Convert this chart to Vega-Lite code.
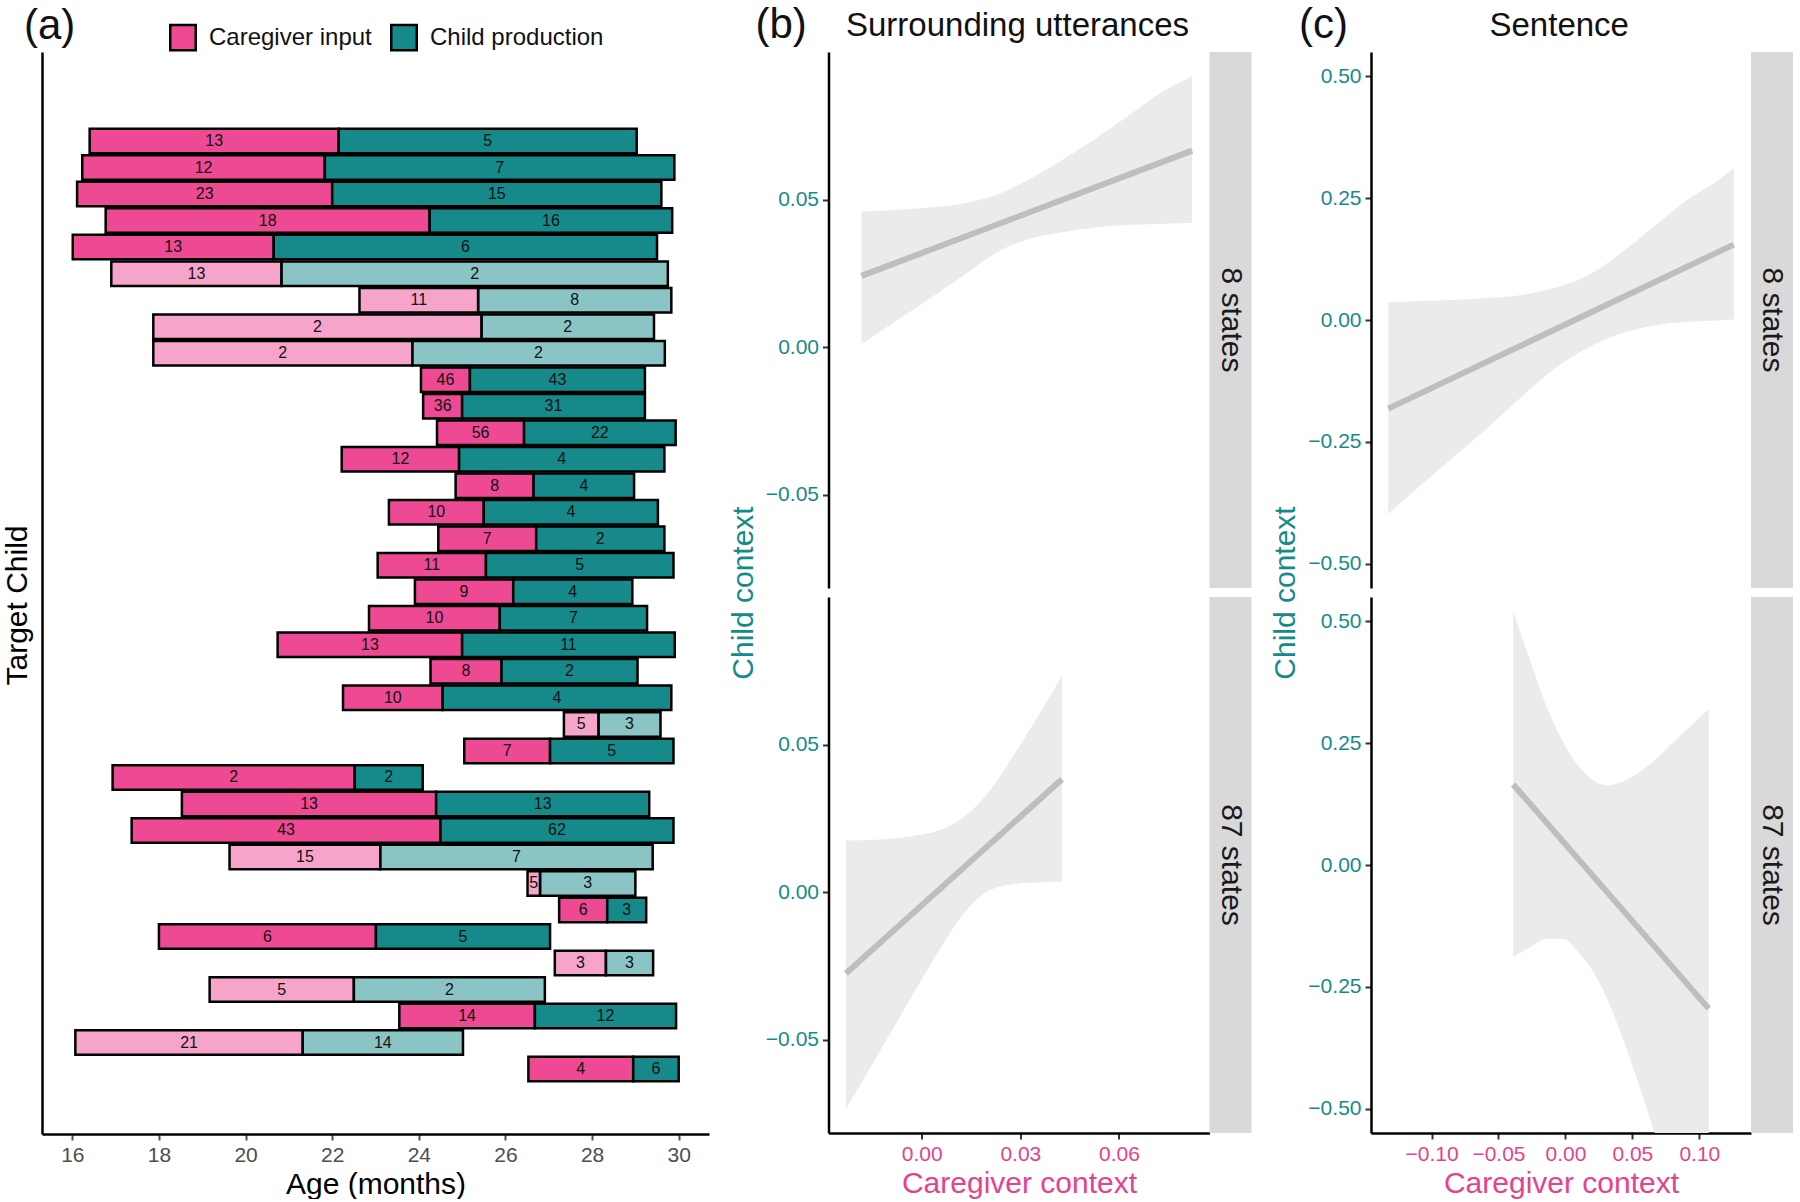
{
  "$schema": "https://vega.github.io/schema/vega-lite/v6.json",
  "background": "white",
  "padding": {"left": 2, "top": 3, "right": 0, "bottom": 0},
  "config": {
    "font": "Liberation Sans",
    "view": {"stroke": null},
    "axis": {"grid": false, "domainColor": "#000000", "domainWidth": 2.5, "tickColor": "#333333", "tickWidth": 2, "tickSize": 6, "labelFontSize": 21, "titleFontSize": 30, "titleFontWeight": "normal", "labelPadding": 4},
    "title": {"fontWeight": "normal", "color": "#111111"},
    "header": {"titleFontWeight": "normal"}
  },
  "datasets": {
    "bars": [
      {"child": 1, "type": "Caregiver input", "start": 16.40, "end": 22.15, "n": 13, "faded": "no"},
      {"child": 1, "type": "Child production", "start": 22.15, "end": 29.03, "n": 5, "faded": "no"},
      {"child": 2, "type": "Caregiver input", "start": 16.23, "end": 21.83, "n": 12, "faded": "no"},
      {"child": 2, "type": "Child production", "start": 21.83, "end": 29.90, "n": 7, "faded": "no"},
      {"child": 3, "type": "Caregiver input", "start": 16.11, "end": 22.00, "n": 23, "faded": "no"},
      {"child": 3, "type": "Child production", "start": 22.00, "end": 29.60, "n": 15, "faded": "no"},
      {"child": 4, "type": "Caregiver input", "start": 16.77, "end": 24.25, "n": 18, "faded": "no"},
      {"child": 4, "type": "Child production", "start": 24.25, "end": 29.85, "n": 16, "faded": "no"},
      {"child": 5, "type": "Caregiver input", "start": 16.01, "end": 20.65, "n": 13, "faded": "no"},
      {"child": 5, "type": "Child production", "start": 20.65, "end": 29.50, "n": 6, "faded": "no"},
      {"child": 6, "type": "Caregiver input", "start": 16.90, "end": 20.83, "n": 13, "faded": "yes"},
      {"child": 6, "type": "Child production", "start": 20.83, "end": 29.75, "n": 2, "faded": "yes"},
      {"child": 7, "type": "Caregiver input", "start": 22.63, "end": 25.37, "n": 11, "faded": "yes"},
      {"child": 7, "type": "Child production", "start": 25.37, "end": 29.83, "n": 8, "faded": "yes"},
      {"child": 8, "type": "Caregiver input", "start": 17.87, "end": 25.45, "n": 2, "faded": "yes"},
      {"child": 8, "type": "Child production", "start": 25.45, "end": 29.43, "n": 2, "faded": "yes"},
      {"child": 9, "type": "Caregiver input", "start": 17.87, "end": 23.85, "n": 2, "faded": "yes"},
      {"child": 9, "type": "Child production", "start": 23.85, "end": 29.68, "n": 2, "faded": "yes"},
      {"child": 10, "type": "Caregiver input", "start": 24.05, "end": 25.18, "n": 46, "faded": "no"},
      {"child": 10, "type": "Child production", "start": 25.18, "end": 29.22, "n": 43, "faded": "no"},
      {"child": 11, "type": "Caregiver input", "start": 24.10, "end": 25.00, "n": 36, "faded": "no"},
      {"child": 11, "type": "Child production", "start": 25.00, "end": 29.22, "n": 31, "faded": "no"},
      {"child": 12, "type": "Caregiver input", "start": 24.42, "end": 26.43, "n": 56, "faded": "no"},
      {"child": 12, "type": "Child production", "start": 26.43, "end": 29.93, "n": 22, "faded": "no"},
      {"child": 13, "type": "Caregiver input", "start": 22.22, "end": 24.93, "n": 12, "faded": "no"},
      {"child": 13, "type": "Child production", "start": 24.93, "end": 29.67, "n": 4, "faded": "no"},
      {"child": 14, "type": "Caregiver input", "start": 24.85, "end": 26.65, "n": 8, "faded": "no"},
      {"child": 14, "type": "Child production", "start": 26.65, "end": 28.97, "n": 4, "faded": "no"},
      {"child": 15, "type": "Caregiver input", "start": 23.31, "end": 25.50, "n": 10, "faded": "no"},
      {"child": 15, "type": "Child production", "start": 25.50, "end": 29.52, "n": 4, "faded": "no"},
      {"child": 16, "type": "Caregiver input", "start": 24.45, "end": 26.71, "n": 7, "faded": "no"},
      {"child": 16, "type": "Child production", "start": 26.71, "end": 29.67, "n": 2, "faded": "no"},
      {"child": 17, "type": "Caregiver input", "start": 23.05, "end": 25.55, "n": 11, "faded": "no"},
      {"child": 17, "type": "Child production", "start": 25.55, "end": 29.88, "n": 5, "faded": "no"},
      {"child": 18, "type": "Caregiver input", "start": 23.91, "end": 26.18, "n": 9, "faded": "no"},
      {"child": 18, "type": "Child production", "start": 26.18, "end": 28.93, "n": 4, "faded": "no"},
      {"child": 19, "type": "Caregiver input", "start": 22.85, "end": 25.87, "n": 10, "faded": "no"},
      {"child": 19, "type": "Child production", "start": 25.87, "end": 29.27, "n": 7, "faded": "no"},
      {"child": 20, "type": "Caregiver input", "start": 20.74, "end": 25.00, "n": 13, "faded": "no"},
      {"child": 20, "type": "Child production", "start": 25.00, "end": 29.91, "n": 11, "faded": "no"},
      {"child": 21, "type": "Caregiver input", "start": 24.27, "end": 25.91, "n": 8, "faded": "no"},
      {"child": 21, "type": "Child production", "start": 25.91, "end": 29.05, "n": 2, "faded": "no"},
      {"child": 22, "type": "Caregiver input", "start": 22.25, "end": 24.55, "n": 10, "faded": "no"},
      {"child": 22, "type": "Child production", "start": 24.55, "end": 29.83, "n": 4, "faded": "no"},
      {"child": 23, "type": "Caregiver input", "start": 27.35, "end": 28.15, "n": 5, "faded": "yes"},
      {"child": 23, "type": "Child production", "start": 28.15, "end": 29.58, "n": 3, "faded": "yes"},
      {"child": 24, "type": "Caregiver input", "start": 25.05, "end": 27.03, "n": 7, "faded": "no"},
      {"child": 24, "type": "Child production", "start": 27.03, "end": 29.88, "n": 5, "faded": "no"},
      {"child": 25, "type": "Caregiver input", "start": 16.93, "end": 22.52, "n": 2, "faded": "no"},
      {"child": 25, "type": "Child production", "start": 22.52, "end": 24.09, "n": 2, "faded": "no"},
      {"child": 26, "type": "Caregiver input", "start": 18.53, "end": 24.40, "n": 13, "faded": "no"},
      {"child": 26, "type": "Child production", "start": 24.40, "end": 29.32, "n": 13, "faded": "no"},
      {"child": 27, "type": "Caregiver input", "start": 17.37, "end": 24.50, "n": 43, "faded": "no"},
      {"child": 27, "type": "Child production", "start": 24.50, "end": 29.88, "n": 62, "faded": "no"},
      {"child": 28, "type": "Caregiver input", "start": 19.63, "end": 23.11, "n": 15, "faded": "yes"},
      {"child": 28, "type": "Child production", "start": 23.11, "end": 29.40, "n": 7, "faded": "yes"},
      {"child": 29, "type": "Caregiver input", "start": 26.51, "end": 26.80, "n": 5, "faded": "yes"},
      {"child": 29, "type": "Child production", "start": 26.80, "end": 29.00, "n": 3, "faded": "yes"},
      {"child": 30, "type": "Caregiver input", "start": 27.24, "end": 28.35, "n": 6, "faded": "no"},
      {"child": 30, "type": "Child production", "start": 28.35, "end": 29.25, "n": 3, "faded": "no"},
      {"child": 31, "type": "Caregiver input", "start": 18.00, "end": 23.01, "n": 6, "faded": "no"},
      {"child": 31, "type": "Child production", "start": 23.01, "end": 27.03, "n": 5, "faded": "no"},
      {"child": 32, "type": "Caregiver input", "start": 27.14, "end": 28.32, "n": 3, "faded": "yes"},
      {"child": 32, "type": "Child production", "start": 28.32, "end": 29.41, "n": 3, "faded": "yes"},
      {"child": 33, "type": "Caregiver input", "start": 19.17, "end": 22.50, "n": 5, "faded": "yes"},
      {"child": 33, "type": "Child production", "start": 22.50, "end": 26.91, "n": 2, "faded": "yes"},
      {"child": 34, "type": "Caregiver input", "start": 23.55, "end": 26.68, "n": 14, "faded": "no"},
      {"child": 34, "type": "Child production", "start": 26.68, "end": 29.94, "n": 12, "faded": "no"},
      {"child": 35, "type": "Caregiver input", "start": 16.07, "end": 21.32, "n": 21, "faded": "yes"},
      {"child": 35, "type": "Child production", "start": 21.32, "end": 25.02, "n": 14, "faded": "yes"},
      {"child": 36, "type": "Caregiver input", "start": 26.53, "end": 28.95, "n": 4, "faded": "no"},
      {"child": 36, "type": "Child production", "start": 28.95, "end": 30.00, "n": 6, "faded": "no"}
    ],
    "regB": [
      {"states": "8 states", "kind": "band", "x": -0.01833, "lo": 0.00115, "hi": 0.0460},
      {"states": "8 states", "kind": "band", "x": -0.00718, "lo": 0.00939, "hi": 0.04661},
      {"states": "8 states", "kind": "band", "x": 0.00295, "lo": 0.01691, "hi": 0.04745},
      {"states": "8 states", "kind": "band", "x": 0.01308, "lo": 0.02455, "hi": 0.04879},
      {"states": "8 states", "kind": "band", "x": 0.02321, "lo": 0.03242, "hi": 0.05182},
      {"states": "8 states", "kind": "band", "x": 0.03335, "lo": 0.03691, "hi": 0.05727},
      {"states": "8 states", "kind": "band", "x": 0.04348, "lo": 0.03909, "hi": 0.06394},
      {"states": "8 states", "kind": "band", "x": 0.05361, "lo": 0.04067, "hi": 0.07121},
      {"states": "8 states", "kind": "band", "x": 0.06374, "lo": 0.04152, "hi": 0.07909},
      {"states": "8 states", "kind": "band", "x": 0.07388, "lo": 0.04188, "hi": 0.08697},
      {"states": "8 states", "kind": "band", "x": 0.08229, "lo": 0.04212, "hi": 0.09182},
      {"states": "8 states", "kind": "line", "x": -0.01833, "y": 0.02418},
      {"states": "8 states", "kind": "line", "x": 0.08229, "y": 0.06661},
      {"states": "87 states", "kind": "band", "x": -0.02309, "lo": -0.07349, "hi": 0.01755},
      {"states": "87 states", "kind": "band", "x": -0.01225, "lo": -0.0529, "hi": 0.01792},
      {"states": "87 states", "kind": "band", "x": -0.00212, "lo": -0.03354, "hi": 0.01913},
      {"states": "87 states", "kind": "band", "x": 0.00599, "lo": -0.0184, "hi": 0.02131},
      {"states": "87 states", "kind": "band", "x": 0.01308, "lo": -0.0068, "hi": 0.02579},
      {"states": "87 states", "kind": "band", "x": 0.02018, "lo": 0.00036, "hi": 0.03366},
      {"states": "87 states", "kind": "band", "x": 0.02828, "lo": 0.00278, "hi": 0.04697},
      {"states": "87 states", "kind": "band", "x": 0.03639, "lo": 0.00339, "hi": 0.0615},
      {"states": "87 states", "kind": "band", "x": 0.04267, "lo": 0.00363, "hi": 0.07337},
      {"states": "87 states", "kind": "line", "x": -0.02309, "y": -0.02748},
      {"states": "87 states", "kind": "line", "x": 0.04267, "y": 0.03826}
    ],
    "regC": [
      {"states": "8 states", "kind": "band", "x": -0.1323, "lo": -0.3976, "hi": 0.0362},
      {"states": "8 states", "kind": "band", "x": -0.1082, "lo": -0.3391, "hi": 0.0391},
      {"states": "8 states", "kind": "band", "x": -0.0833, "lo": -0.2805, "hi": 0.0413},
      {"states": "8 states", "kind": "band", "x": -0.0584, "lo": -0.2220, "hi": 0.0450},
      {"states": "8 states", "kind": "band", "x": -0.0336, "lo": -0.1598, "hi": 0.0508},
      {"states": "8 states", "kind": "band", "x": -0.0087, "lo": -0.1013, "hi": 0.0655},
      {"states": "8 states", "kind": "band", "x": 0.0162, "lo": -0.0574, "hi": 0.0903},
      {"states": "8 states", "kind": "band", "x": 0.0411, "lo": -0.0282, "hi": 0.1364},
      {"states": "8 states", "kind": "band", "x": 0.0659, "lo": -0.0113, "hi": 0.1913},
      {"states": "8 states", "kind": "band", "x": 0.0908, "lo": -0.0040, "hi": 0.2462},
      {"states": "8 states", "kind": "band", "x": 0.1157, "lo": -0.0004, "hi": 0.2900},
      {"states": "8 states", "kind": "band", "x": 0.1257, "lo": 0.0011, "hi": 0.3120},
      {"states": "8 states", "kind": "line", "x": -0.1323, "y": -0.1818},
      {"states": "8 states", "kind": "line", "x": 0.1257, "y": 0.1547},
      {"states": "87 states", "kind": "band", "x": -0.0390, "lo": -0.1888, "hi": 0.5197},
      {"states": "87 states", "kind": "band", "x": -0.0261, "lo": -0.1681, "hi": 0.4175},
      {"states": "87 states", "kind": "band", "x": -0.0137, "lo": -0.1516, "hi": 0.3225},
      {"states": "87 states", "kind": "band", "x": -0.0012, "lo": -0.1523, "hi": 0.2495},
      {"states": "87 states", "kind": "band", "x": 0.0112, "lo": -0.1841, "hi": 0.1983},
      {"states": "87 states", "kind": "band", "x": 0.0212, "lo": -0.2212, "hi": 0.1728},
      {"states": "87 states", "kind": "band", "x": 0.0311, "lo": -0.2745, "hi": 0.1633},
      {"states": "87 states", "kind": "band", "x": 0.0411, "lo": -0.3430, "hi": 0.1691},
      {"states": "87 states", "kind": "band", "x": 0.0535, "lo": -0.4397, "hi": 0.1874},
      {"states": "87 states", "kind": "band", "x": 0.0659, "lo": -0.5437, "hi": 0.2129},
      {"states": "87 states", "kind": "band", "x": 0.0784, "lo": -0.6548, "hi": 0.2458},
      {"states": "87 states", "kind": "band", "x": 0.0908, "lo": -0.7662, "hi": 0.2787},
      {"states": "87 states", "kind": "band", "x": 0.1070, "lo": -0.9097, "hi": 0.3203},
      {"states": "87 states", "kind": "line", "x": -0.0390, "y": 0.1654},
      {"states": "87 states", "kind": "line", "x": 0.1070, "y": -0.2947}
    ],
    "strips": [
      {"states": "8 states"},
      {"states": "87 states"}
    ]
  },
  "spacing": 18.5,
  "hconcat": [
    {
      "width": 667,
      "height": 1082,
      "title": {"text": "(a)", "anchor": "start", "fontSize": 42, "dx": 22, "offset": 4.5},
      "data": {"name": "bars"},
      "layer": [
        {
          "mark": {"type": "bar", "orient": "horizontal", "size": 24.5, "stroke": "#000000", "strokeWidth": 2.5},
          "encoding": {
            "y": {"field": "child", "type": "quantitative", "scale": {"domain": [-2.17, 38.26], "reverse": true, "nice": false, "zero": false}, "axis": {"title": "Target Child", "labels": false, "ticks": false, "titlePadding": 10, "titleY": 553, "titleColor": "#000000"}},
            "x": {"field": "start", "type": "quantitative", "scale": {"domain": [15.3, 30.7], "nice": false, "zero": false}, "axis": {"title": "Age (months)", "values": [16, 18, 20, 22, 24, 26, 28, 30], "labelColor": "#4D4D4D", "tickColor": "#4D4D4D", "labelFontSize": 21, "titleColor": "#000000", "titlePadding": 4}},
            "x2": {"field": "end"},
            "fill": {"field": "type", "type": "nominal", "scale": {"domain": ["Caregiver input", "Child production"], "range": ["#EE4A93", "#168A8B"]},
              "legend": {"orient": "none", "legendX": 127, "legendY": -28.5, "direction": "horizontal", "title": null, "symbolType": "square", "symbolSize": 650, "symbolStrokeColor": "#000000", "symbolStrokeWidth": 2.5, "symbolOpacity": 1, "labelFontSize": 24, "labelLimit": 400, "labelOffset": 12, "columnPadding": 14, "labelColor": "#111111"}},
            "fillOpacity": {"field": "faded", "type": "nominal", "scale": {"domain": ["no", "yes"], "range": [1, 0.5]}, "legend": null}
          }
        },
        {
          "transform": [{"calculate": "(datum.start + datum.end) / 2", "as": "mid"}],
          "mark": {"type": "text", "fontSize": 16, "font": "Liberation Sans", "baseline": "middle", "align": "center", "color": "#111111"},
          "encoding": {
            "x": {"field": "mid", "type": "quantitative"},
            "y": {"field": "child", "type": "quantitative"},
            "text": {"field": "n", "type": "quantitative"}
          }
        }
      ]
    },
    {
      "title": {"text": "(b)", "anchor": "start", "fontSize": 42, "dx": 27, "offset": -36.5},
      "spacing": 0,
      "hconcat": [
        {
          "data": {"name": "regB"},
          "title": {"text": "Surrounding utterances", "anchor": "start", "frame": "group", "dx": 17.5, "fontSize": 33, "offset": 9},
          "facet": {"row": {"field": "states", "type": "nominal", "sort": ["8 states", "87 states"], "header": {"title": "Child context", "titleOrient": "left", "titleFontSize": 30, "titleColor": "#168A8B", "labels": false, "titlePadding": -4}}},
          "spacing": {"row": 9},
          "spec": {
            "width": 381,
            "height": 536,
            "layer": [
              {
                "transform": [{"filter": "datum.kind === 'band'"}],
                "mark": {"type": "area", "interpolate": "monotone", "color": "#EBEBEB", "clip": true},
                "encoding": {
                  "x": {"field": "x", "type": "quantitative", "scale": {"domain": [-0.02837, 0.08757], "nice": false, "zero": false}, "axis": {"title": "Caregiver context", "values": [0, 0.03, 0.06], "format": ".2f", "labelColor": "#E8418C", "titleColor": "#E8418C"}},
                  "y": {"field": "lo", "type": "quantitative", "scale": {"domain": [-0.0815, 0.1], "nice": false, "zero": false}, "axis": {"title": null, "values": [-0.05, 0, 0.05], "format": ".2f", "labelColor": "#168A8B"}},
                  "y2": {"field": "hi"}
                }
              },
              {
                "transform": [{"filter": "datum.kind === 'line'"}],
                "mark": {"type": "line", "color": "#BEBEBE", "strokeWidth": 6, "clip": true},
                "encoding": {
                  "x": {"field": "x", "type": "quantitative"},
                  "y": {"field": "y", "type": "quantitative"}
                }
              }
            ]
          }
        },
        {
          "data": {"name": "strips"},
          "facet": {"row": {"field": "states", "type": "nominal", "sort": ["8 states", "87 states"], "header": null}},
          "spacing": {"row": 9},
          "spec": {
            "width": 42,
            "height": 536,
            "layer": [
              {"mark": {"type": "rect", "color": "#D9D9D9"}, "encoding": {}},
              {"mark": {"type": "text", "angle": 90, "fontSize": 30, "color": "#1A1A1A", "baseline": "middle", "align": "center"}, "encoding": {"text": {"field": "states", "type": "nominal"}}}
            ]
          }
        }
      ]
    },
    {
      "title": {"text": "(c)", "anchor": "start", "fontSize": 42, "dx": 28, "offset": -36.5},
      "spacing": 0,
      "hconcat": [
        {
          "data": {"name": "regC"},
          "title": {"text": "Sentence", "anchor": "start", "frame": "group", "dx": 118.5, "fontSize": 33, "offset": 9},
          "facet": {"row": {"field": "states", "type": "nominal", "sort": ["8 states", "87 states"], "header": {"title": "Child context", "titleOrient": "left", "titleFontSize": 30, "titleColor": "#168A8B", "labels": false, "titlePadding": -4}}},
          "spacing": {"row": 9},
          "spec": {
            "width": 380,
            "height": 536,
            "layer": [
              {
                "transform": [{"filter": "datum.kind === 'band'"}],
                "mark": {"type": "area", "interpolate": "monotone", "color": "#EBEBEB", "clip": true},
                "encoding": {
                  "x": {"field": "x", "type": "quantitative", "scale": {"domain": [-0.1452, 0.1386], "nice": false, "zero": false}, "axis": {"title": "Caregiver context", "values": [-0.1, -0.05, 0, 0.05, 0.1], "format": ".2f", "labelColor": "#E8418C", "titleColor": "#E8418C"}},
                  "y": {"field": "lo", "type": "quantitative", "scale": {"domain": [-0.55, 0.55], "nice": false, "zero": false}, "axis": {"title": null, "values": [-0.5, -0.25, 0, 0.25, 0.5], "format": ".2f", "labelColor": "#168A8B"}},
                  "y2": {"field": "hi"}
                }
              },
              {
                "transform": [{"filter": "datum.kind === 'line'"}],
                "mark": {"type": "line", "color": "#BEBEBE", "strokeWidth": 6, "clip": true},
                "encoding": {
                  "x": {"field": "x", "type": "quantitative"},
                  "y": {"field": "y", "type": "quantitative"}
                }
              }
            ]
          }
        },
        {
          "data": {"name": "strips"},
          "facet": {"row": {"field": "states", "type": "nominal", "sort": ["8 states", "87 states"], "header": null}},
          "spacing": {"row": 9},
          "spec": {
            "width": 42,
            "height": 536,
            "layer": [
              {"mark": {"type": "rect", "color": "#D9D9D9"}, "encoding": {}},
              {"mark": {"type": "text", "angle": 90, "fontSize": 30, "color": "#1A1A1A", "baseline": "middle", "align": "center"}, "encoding": {"text": {"field": "states", "type": "nominal"}}}
            ]
          }
        }
      ]
    }
  ]
}
